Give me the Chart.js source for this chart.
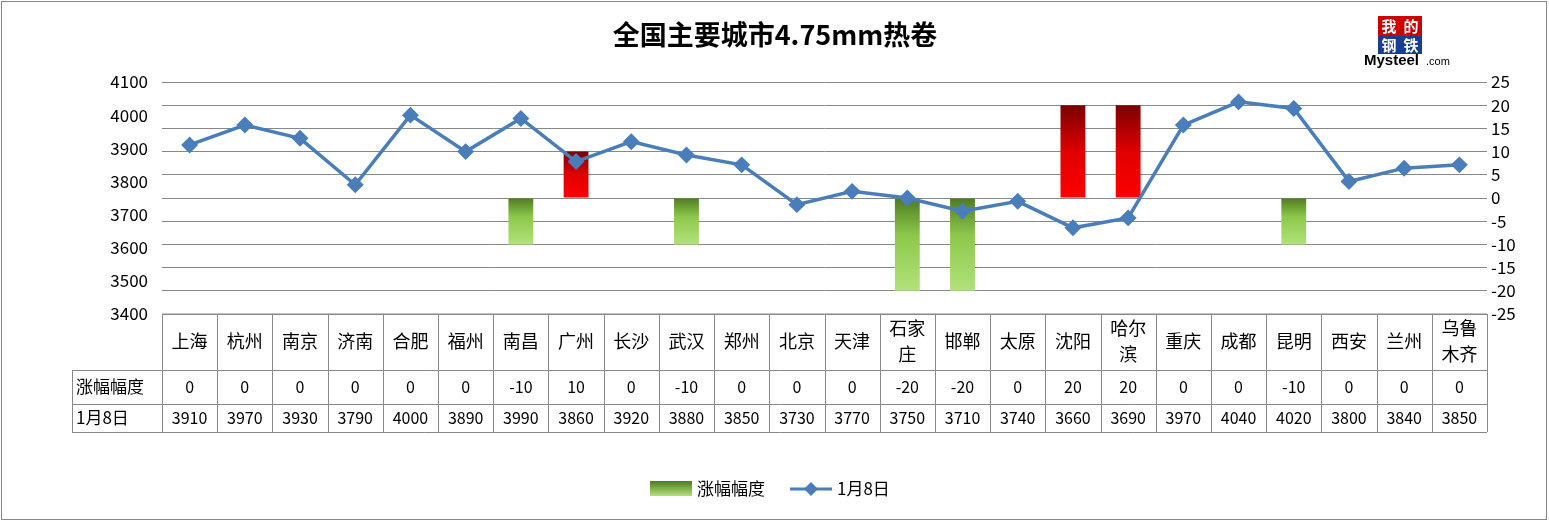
<!DOCTYPE html>
<html><head><meta charset="utf-8">
<script src="https://cdn.jsdelivr.net/npm/chart.js@4/dist/chart.umd.min.js"></script>
<style>body{margin:0;background:#fff}#wrap{width:1549px;height:522px}</style>
</head><body><div id="wrap"><canvas id="c"></canvas></div>
<script>
const cities = ['上海','杭州','南京','济南','合肥','福州','南昌','广州','长沙','武汉','郑州','北京','天津','石家庄','邯郸','太原','沈阳','哈尔滨','重庆','成都','昆明','西安','兰州','乌鲁木齐'];
const change = [0,0,0,0,0,0,-10,10,0,-10,0,0,0,-20,-20,0,20,20,0,0,-10,0,0,0];
const price = [3910,3970,3930,3790,4000,3890,3990,3860,3920,3880,3850,3730,3770,3750,3710,3740,3660,3690,3970,4040,4020,3800,3840,3850];
const leftTicks = [3400,4100,100];
const rightTicks = [-25,25,5];
const font = '"Noto Sans CJK SC", sans-serif';

function barFill(ctx) {
  const chart = ctx.chart, el = ctx.element;
  const v = ctx.raw;
  if (!chart.chartArea || !el) return v > 0 ? '#d00' : '#8c4';
  const y0 = chart.scales.y2.getPixelForValue(0), y1 = chart.scales.y2.getPixelForValue(v);
  const g = chart.ctx.createLinearGradient(0, Math.min(y0, y1), 0, Math.max(y0, y1));
  if (v > 0) { g.addColorStop(0, '#7a0000'); g.addColorStop(0.5, '#e00000'); g.addColorStop(1, '#ff0000'); }
  else { g.addColorStop(0, '#4f7a22'); g.addColorStop(0.4, '#8cc84a'); g.addColorStop(1, '#b2e27a'); }
  return g;
}

const extras = {
  id: 'extras',
  afterDraw(chart) {
    const c = chart.ctx, a = chart.chartArea;
    c.save();
    c.strokeStyle = '#888'; c.lineWidth = 1;
    c.strokeRect(1.5, 1.5, 1545, 518);
    c.fillStyle = '#000'; c.textAlign = 'center'; c.textBaseline = 'middle';
    c.font = 'bold 27px ' + font;
    c.fillText('全国主要城市4.75mm热卷', 775, 35);
    // logo
    c.fillStyle = '#c00'; c.fillRect(1378, 16, 22, 20); c.fillRect(1400, 16, 22, 20);
    c.fillStyle = '#1a3d8f'; c.fillRect(1378, 36, 22, 18); c.fillRect(1400, 36, 22, 18);
    c.fillStyle = '#fff'; c.font = 'bold 15px ' + font;
    c.fillText('我', 1389, 26); c.fillText('的', 1411, 26); c.fillText('钢', 1389, 45); c.fillText('铁', 1411, 45);
    c.fillStyle = '#000'; c.font = 'bold 15px Arial'; c.textAlign = 'left';
    c.fillText('Mysteel', 1364, 61); c.font = '11px Arial'; c.fillText('.com', 1426, 62);
    // table
    const n = cities.length, w = (a.right - a.left) / n;
    const rows = [a.bottom, 370, 404, 432];
    c.strokeStyle = '#888'; c.beginPath();
    c.moveTo(a.left, rows[0]); c.lineTo(a.right, rows[0]);
    for (let r = 1; r < 4; r++) { c.moveTo(72, rows[r] + 0.5); c.lineTo(a.right, rows[r] + 0.5); }
    for (let i = 0; i <= n; i++) { const x = Math.round(a.left + i * w) + 0.5; c.moveTo(x, rows[0]); c.lineTo(x, rows[3]); }
    c.moveTo(72.5, rows[1]); c.lineTo(72.5, rows[3]);
    c.stroke();
    c.fillStyle = '#000'; c.textAlign = 'center';
    for (let i = 0; i < n; i++) {
      const x = a.left + (i + 0.5) * w, name = cities[i];
      c.font = '18px ' + font;
      if (name.length > 2) {
        c.fillText(name.slice(0, 2), x, 328); c.fillText(name.slice(2), x, 354);
      } else c.fillText(name, x, 341);
      c.font = '16px ' + font;
      c.fillText(String(change[i]), x, 387);
      c.fillText(String(price[i]), x, 418);
    }
    c.textAlign = 'left'; c.font = '17px ' + font;
    c.fillText('涨幅幅度', 76, 387); c.fillText('1月8日', 76, 418);
    // legend
    const lg = c.createLinearGradient(0, 481, 0, 496);
    lg.addColorStop(0, '#4f7a22'); lg.addColorStop(1, '#b2e27a');
    c.fillStyle = lg; c.fillRect(650, 481, 42, 15);
    c.fillStyle = '#000'; c.fillText('涨幅幅度', 697, 489);
    c.strokeStyle = '#4a7ebb'; c.lineWidth = 3; c.beginPath(); c.moveTo(790, 489); c.lineTo(832, 489); c.stroke();
    c.fillStyle = '#4a7ebb'; c.beginPath(); c.moveTo(811, 482); c.lineTo(818, 489); c.lineTo(811, 496); c.lineTo(804, 489); c.closePath(); c.fill();
    c.fillStyle = '#000'; c.fillText('1月8日', 837, 489);
    c.restore();
  }
};

new Chart(document.getElementById('c'), {
  data: {
    labels: cities,
    datasets: [
      { type: 'line', label: '1月8日', data: price, yAxisID: 'y', borderColor: '#4a7ebb', backgroundColor: '#4a7ebb',
        borderWidth: 3.5, pointStyle: 'rectRot', pointRadius: 6, pointHoverRadius: 6, tension: 0, order: 0 },
      { type: 'bar', label: '涨幅幅度', data: change, yAxisID: 'y2', backgroundColor: barFill,
        barPercentage: 0.45, categoryPercentage: 1, order: 1 }
    ]
  },
  options: {
    responsive: true, maintainAspectRatio: false, animation: false,
    layout: { padding: { left: 100, right: 12, top: 82, bottom: 208 } },
    plugins: { legend: { display: false }, tooltip: { enabled: false } },
    scales: {
      x: { display: false, offset: true },
      y: { position: 'left', min: leftTicks[0], max: leftTicks[1],
        ticks: { stepSize: leftTicks[2], autoSkip: false, color: '#000', font: { size: 17, family: font }, padding: 6,
          callback: v => String(v) },
        grid: { display: false }, border: { display: false },
        afterFit(s) { s.width = 62; } },
      y2: { position: 'right', min: rightTicks[0], max: rightTicks[1],
        ticks: { stepSize: rightTicks[2], autoSkip: false, color: '#000', font: { size: 17, family: font }, padding: 4 },
        grid: { color: '#888', drawTicks: false }, border: { display: false },
        afterFit(s) { s.width = 50; } }
    }
  },
  plugins: [extras]
});
</script></body></html>
